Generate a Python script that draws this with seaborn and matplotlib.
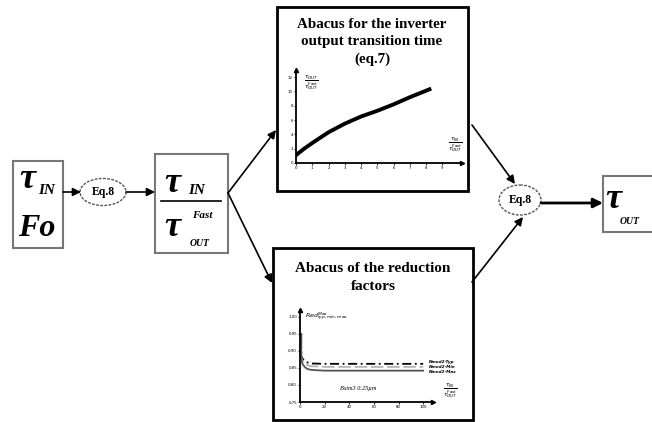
import numpy as np
import pandas as pd
import matplotlib.pyplot as plt
import seaborn as sns
from matplotlib.patches import Rectangle, Ellipse

# ---- data ----
# top abacus: inverter output transition time (eq.7)
top_x = [0, 0.5, 1, 2, 3, 4, 5, 6, 7, 8.2]
top_y = [1.1, 2.0, 2.8, 4.3, 5.5, 6.5, 7.3, 8.2, 9.2, 10.3]
top_xticks = list(range(10))
top_yticks = [0, 2, 4, 6, 8, 10, 12]

# bottom abacus: reduction factors
red_x = [1, 1, 2, 4, 6, 8, 10, 20, 40, 60, 80, 100]
red_typ = [0.95, 0.885, 0.877, 0.870, 0.866, 0.864, 0.863, 0.862, 0.862, 0.862, 0.862, 0.862]
red_min = [0.95, 0.880, 0.870, 0.862, 0.858, 0.856, 0.855, 0.853, 0.853, 0.853, 0.853, 0.853]
red_max = [0.95, 0.875, 0.862, 0.852, 0.847, 0.845, 0.844, 0.842, 0.842, 0.842, 0.842, 0.842]
red_names = ["Nmod2-Typ", "Nmod2-Min", "Nmod2-Max"]
red_xticks = [0, 20, 40, 60, 80, 100]
red_yticks = [0.75, 0.80, 0.85, 0.90, 0.95, 1.00]

W, H = 652, 422
serif = "Liberation Serif"

fig = plt.figure(figsize=(W / 100, H / 100), dpi=100)
ax = fig.add_axes([0, 0, 1, 1])
ax.set_xlim(0, W)
ax.set_ylim(H, 0)
ax.axis("off")


def box(x0, y0, x1, y1, lw=1.5, color="#777777"):
    ax.add_patch(Rectangle((x0, y0), x1 - x0, y1 - y0, fill=True, fc="white",
                           ec=color, lw=lw, zorder=2))


def arrow(p0, p1, lw=1.2, ms=12):
    ax.annotate("", xy=p1, xytext=p0,
                arrowprops=dict(arrowstyle="-|>", color="black", lw=lw,
                                mutation_scale=ms, shrinkA=0, shrinkB=0), zorder=3)


def eq_node(cx, cy, w, h):
    ax.add_patch(Ellipse((cx, cy), w, h, fc="white", ec="#555555", lw=1,
                         ls=(0, (2, 1)), zorder=3))
    ax.text(cx, cy, "Eq.8", ha="center", va="center", fontsize=8.5,
            family=serif, weight="bold", zorder=4)


big = dict(family=serif, weight="bold", style="italic", color="black", zorder=4)

# input box
box(13, 161, 63, 248)
ax.text(27, 180, "τ", fontsize=26, ha="center", va="center", **big)
ax.text(47, 190, "IN", fontsize=11, ha="center", va="center", **big)
ax.text(37, 228, "Fo", fontsize=23, ha="center", va="center", **big)

eq_node(103, 192, 46, 27)
arrow((63, 192), (81, 192))
arrow((126, 192), (155, 192))

# ratio box
box(155, 154, 228, 253)
ax.text(172, 183, "τ", fontsize=26, ha="center", va="center", **big)
ax.text(197, 190, "IN", fontsize=11, ha="center", va="center", **big)
ax.plot([161, 221], [201, 201], color="black", lw=1.2, zorder=4)
ax.text(172, 227, "τ", fontsize=26, ha="center", va="center", **big)
ax.text(202, 216, "Fast", fontsize=8, ha="center", va="center", **big)
ax.text(200, 244, "OUT", fontsize=7, ha="center", va="center", **big)

# branches
arrow((228, 193), (276, 130))
arrow((228, 193), (272, 283))

# abacus boxes
box(277, 7, 468, 191, lw=2, color="black")
ax.text(372, 42, "Abacus for the inverter\noutput transition time\n(eq.7)",
        ha="center", va="center", fontsize=10.8, family=serif, weight="bold",
        linespacing=1.42, zorder=4)
box(273, 248, 473, 420, lw=2, color="black")
ax.text(373, 278, "Abacus of the reduction\nfactors", ha="center", va="center",
        fontsize=11, family=serif, weight="bold", linespacing=1.5, zorder=4)

# merge
eq_node(520, 200, 42, 30)
arrow((472, 125), (515, 184))
arrow((472, 282), (523, 217))
arrow((541, 203), (603, 203), lw=2, ms=14)

# output box
box(603, 176, 670, 232)
ax.text(613, 200, "τ", fontsize=26, ha="center", va="center", **big)
ax.text(630, 221, "OUT", fontsize=7, ha="center", va="center", **big)


def small_axes(px0, py_top, pw, ph):
    a = fig.add_axes([px0 / W, 1 - (py_top + ph) / H, pw / W, ph / H])
    a.set_facecolor("none")
    for s in ["top", "right"]:
        a.spines[s].set_visible(False)
    for s in ["left", "bottom"]:
        a.spines[s].set_linewidth(1.3)
    a.plot(1, 0, ">k", ms=3, transform=a.transAxes, clip_on=False)
    a.plot(0, 1, "^k", ms=3, transform=a.transAxes, clip_on=False)
    a.tick_params(length=1.2, width=0.6, labelsize=2.8, pad=1)
    return a


# top inset chart
ax1 = small_axes(296, 70, 166, 93)
sns.lineplot(x=top_x, y=top_y, color="black", lw=2.8, ax=ax1)
ax1.set_xlim(0, 10.2)
ax1.set_ylim(0, 13)
ax1.set_xticks(top_xticks)
ax1.set_xticklabels([str(v) for v in top_xticks])
ax1.set_yticks(top_yticks)
ax1.set_yticklabels([str(v) for v in top_yticks])
ax1.set_xlabel("")
ax1.set_ylabel("")
ax1.text(0.05, 0.86, r"$\frac{\tau_{OUT}}{\tau_{OUT}^{Fast}}$", transform=ax1.transAxes,
         fontsize=6, va="center", ha="left")
ax1.text(0.96, 0.2, r"$\frac{\tau_{IN}}{\tau_{OUT}^{Fast}}$", transform=ax1.transAxes,
         fontsize=6, va="center", ha="center")

# bottom inset chart
red_df = pd.DataFrame({
    "x": red_x * 3,
    "red": red_typ + red_min + red_max,
    "curve": [red_names[0]] * len(red_x) + [red_names[1]] * len(red_x) + [red_names[2]] * len(red_x),
})
ax2 = small_axes(300, 310, 133, 92)
sns.lineplot(data=red_df, x="x", y="red", hue="curve", style="curve",
             palette={red_names[0]: "black", red_names[1]: "#b5b5b5", red_names[2]: "#555555"},
             dashes={red_names[0]: (5, 2, 1, 2), red_names[1]: (7, 2), red_names[2]: ""},
             estimator=None, sort=False, legend=False, lw=1.3, ax=ax2)
ax2.set_xlim(0, 108)
ax2.set_ylim(0.75, 1.02)
ax2.set_xticks(red_xticks)
ax2.set_xticklabels([str(v) for v in red_xticks])
ax2.set_yticks(red_yticks)
ax2.set_yticklabels([f"{v:.2f}".replace(".", ",") for v in red_yticks])
ax2.set_xlabel("")
ax2.set_ylabel("")
for name, yv, dy in zip(red_names, [red_typ[-1], red_min[-1], red_max[-1]], [0.004, 0.0, -0.004]):
    ax2.text(105, yv + dy, name, fontsize=3, style="italic", weight="bold",
             va="center", ha="left", clip_on=False)
ax2.text(47, 0.79, "Bsim3 0.25µm", fontsize=4.5, style="italic", family=serif,
         ha="center", va="center")
ax2.text(4, 1.0, r"$Red^{Max}_{typ,min,max}$", fontsize=4.5, ha="left", va="center")
ax2.text(1.13, 0.12, r"$\frac{\tau_{IN}}{\tau_{OUT}^{Fast}}$", transform=ax2.transAxes,
         fontsize=6, va="center", ha="center", clip_on=False)

fig.savefig("out.png", dpi=100)
